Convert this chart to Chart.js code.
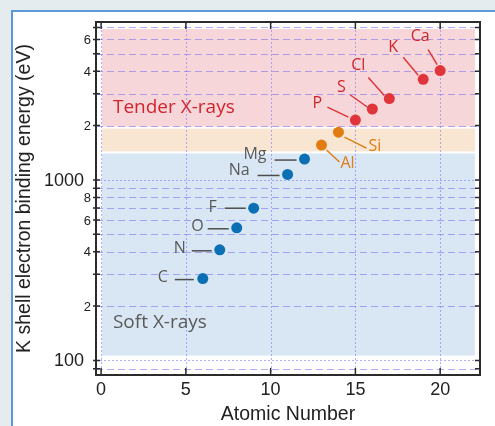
<!DOCTYPE html>
<html>
<head>
<meta charset="utf-8">
<script src="https://cdn.jsdelivr.net/npm/chart.js"></script>
<style>
  html, body { margin: 0; padding: 0; background: #e4ecef; overflow: hidden; }
  #panel { position: absolute; left: 11px; top: 10px; right: 0; bottom: 0; background: #fff;
           border-left: 2px solid #5b9bd5; border-top: 2px solid #5b9bd5; }
  #wrap { position: absolute; left: 0; top: 0; width: 495px; height: 426px; }
</style>
</head>
<body>
<div id="panel"></div>
<div id="wrap"><canvas id="myChart"></canvas></div>
<script>
// K-shell binding energies
const elements = ['C', 'N', 'O', 'F', 'Na', 'Mg', 'Al', 'Si', 'P', 'S', 'Cl', 'K', 'Ca'];
const atomicNumbers = [6, 7, 8, 9, 11, 12, 13, 14, 15, 16, 17, 19, 20];
const bindingEnergies = [284, 410, 543, 697, 1072, 1305, 1560, 1839, 2146, 2472, 2822, 3608, 4038];
const groups = ['soft', 'soft', 'soft', 'soft', 'soft', 'soft', 'mid', 'mid', 'tender', 'tender', 'tender', 'tender', 'tender'];

// shaded energy bands (eV)
const bandNames = ['soft', 'mid', 'tender'];
const bandLow = [105, 1420, 1950];
const bandHigh = [1420, 1950, 6950];
const bandXFrom = 0.05;
const bandXTo = 22.05;

// axes
const xTicks = [0, 5, 10, 15, 20];
const yTickValues = [100, 200, 400, 600, 800, 1000, 2000, 4000, 6000];
const yTickLabels = ['100', '2', '4', '6', '8', '1000', '2', '4', '6'];
const yMajorLines = [100, 1000];
const yMinorLines = [90, 200, 300, 400, 500, 600, 700, 800, 900, 2000, 3000, 4000, 5000, 6000, 7000];

const colors = {
  soft: { point: '#0a6fb3', text: '#595959', band: '#d9e7f4' },
  mid: { point: '#e07c12', text: '#e07c12', band: '#f9e6d2' },
  tender: { point: '#e0353a', text: '#d2242c', band: '#f6d6d8' }
};

// label placement relative to each point (pixels)
const labelStyle = {
  C:  { dx: -35, dy: -1, align: 'right', line: [-28, 1, -9, 1] },
  N:  { dx: -34, dy: -1, align: 'right', line: [-28, 1, -8, 1] },
  O:  { dx: -33, dy: -1, align: 'right', line: [-29, 1, -8, 1] },
  F:  { dx: -37, dy: -1, align: 'right', line: [-29, 0, -8, 0] },
  Na: { dx: -38, dy: -4, align: 'right', line: [-30, 1, -8, 1] },
  Mg: { dx: -38, dy: -5, align: 'right', line: [-30, 1, -8, 1] },
  Al: { dx: 19, dy: 18, align: 'left', line: [5, 5, 18, 17] },
  Si: { dx: 30, dy: 14, align: 'left', line: [6, 5, 28, 16] },
  P:  { dx: -38, dy: -17, align: 'center', line: [-28, -13, -7, -3] },
  S:  { dx: -31, dy: -22, align: 'center', line: [-22, -14, -5, -2] },
  Cl: { dx: -31, dy: -33, align: 'center', line: [-21, -21, -5, -3] },
  K:  { dx: -30, dy: -32, align: 'center', line: [-20, -22, -5, -4] },
  Ca: { dx: -20, dy: -34, align: 'center', line: [-12, -21, -3, -6] }
};

function groupData(name) {
  const pts = [];
  for (let i = 0; i < elements.length; i++) {
    if (groups[i] === name) pts.push({ x: atomicNumbers[i], y: bindingEnergies[i] });
  }
  return pts;
}

const decorPlugin = {
  id: 'decor',
  beforeDraw(chart) {
    const { ctx, scales: { x, y } } = chart;
    ctx.save();
    for (let i = 0; i < bandNames.length; i++) {
      const x0 = x.getPixelForValue(bandXFrom);
      const x1 = x.getPixelForValue(bandXTo);
      const y0 = y.getPixelForValue(bandHigh[i]);
      const y1 = y.getPixelForValue(bandLow[i]);
      ctx.fillStyle = colors[bandNames[i]].band;
      ctx.fillRect(x0, y0 + 1, x1 - x0, y1 - y0 - 2);
    }
    ctx.restore();
  },
  beforeDatasetsDraw(chart) {
    const { ctx, chartArea: a, scales: { x, y } } = chart;
    ctx.save();
    ctx.lineWidth = 1;
    // vertical dotted grid
    ctx.strokeStyle = 'rgba(120,120,255,0.6)';
    ctx.setLineDash([2, 2]);
    xTicks.forEach(v => {
      const px = Math.round(x.getPixelForValue(v)) + 0.5;
      ctx.beginPath(); ctx.moveTo(px, a.top); ctx.lineTo(px, a.bottom); ctx.stroke();
    });
    yMajorLines.forEach(v => {
      const py = Math.round(y.getPixelForValue(v)) + 0.5;
      ctx.beginPath(); ctx.moveTo(a.left, py); ctx.lineTo(a.right, py); ctx.stroke();
    });
    // dashed minor grid
    ctx.strokeStyle = 'rgba(115,105,240,0.55)';
    ctx.setLineDash([7, 4]);
    yMinorLines.forEach(v => {
      const py = Math.round(y.getPixelForValue(v)) + 0.5;
      ctx.beginPath(); ctx.moveTo(a.left, py); ctx.lineTo(a.right, py); ctx.stroke();
    });
    ctx.setLineDash([]);

    // frame
    ctx.strokeStyle = '#2b2b2b';
    ctx.lineWidth = 2;
    ctx.strokeRect(a.left, a.top, a.right - a.left, a.bottom - a.top);

    // tick marks
    ctx.lineWidth = 1.5;
    xTicks.forEach(v => {
      const px = x.getPixelForValue(v);
      ctx.beginPath();
      ctx.moveTo(px, a.bottom); ctx.lineTo(px, a.bottom - 7);
      ctx.moveTo(px, a.top); ctx.lineTo(px, a.top + 7);
      ctx.stroke();
    });
    yMajorLines.concat(yMinorLines).forEach(v => {
      const py = y.getPixelForValue(v);
      ctx.beginPath();
      ctx.moveTo(a.left - 3, py); ctx.lineTo(a.left + 4, py);
      ctx.moveTo(a.right, py); ctx.lineTo(a.right - 5, py);
      ctx.stroke();
    });

    // y tick labels
    ctx.fillStyle = '#222';
    ctx.textAlign = 'right';
    ctx.textBaseline = 'middle';
    yTickValues.forEach((v, i) => {
      const major = yMajorLines.includes(v);
      ctx.font = major ? '18px "Liberation Sans"' : '13px "Liberation Sans"';
      ctx.fillText(yTickLabels[i], a.left - (major ? 12 : 5), y.getPixelForValue(v) + 1);
    });

    // band names
    ctx.textAlign = 'left';
    ctx.font = '19px "Open Sans"';
    ctx.fillStyle = colors.tender.text;
    ctx.fillText('Tender X-rays', x.getPixelForValue(bandXFrom) + 11, y.getPixelForValue(bandLow[2]) - 20);
    ctx.fillStyle = colors.soft.text;
    ctx.fillText('Soft X-rays', x.getPixelForValue(bandXFrom) + 11, y.getPixelForValue(bandLow[0]) - 34);
    ctx.restore();
  },
  afterDatasetsDraw(chart) {
    const { ctx, scales: { x, y } } = chart;
    ctx.save();
    ctx.textBaseline = 'middle';
    ctx.font = '16px "Open Sans"';
    elements.forEach((el, i) => {
      const s = labelStyle[el];
      const c = colors[groups[i]];
      const px = x.getPixelForValue(atomicNumbers[i]);
      const py = y.getPixelForValue(bindingEnergies[i]);
      ctx.strokeStyle = groups[i] === 'soft' ? '#4d4d4d' : c.point;
      ctx.lineWidth = 1.5;
      ctx.beginPath();
      ctx.moveTo(px + s.line[0], py + s.line[1]);
      ctx.lineTo(px + s.line[2], py + s.line[3]);
      ctx.stroke();
      ctx.fillStyle = c.text;
      ctx.textAlign = s.align;
      ctx.fillText(el, px + s.dx, py + s.dy);
    });
    ctx.restore();
  }
};

new Chart('myChart', {
  type: 'scatter',
  data: {
    datasets: bandNames.map(name => ({
      data: groupData(name),
      backgroundColor: colors[name].point,
      borderWidth: 0,
      pointRadius: 5.5,
      pointHoverRadius: 5.5
    }))
  },
  options: {
    responsive: true,
    maintainAspectRatio: false,
    animation: false,
    layout: { padding: { top: 22, right: 15, left: 0, bottom: 0 } },
    plugins: { legend: { display: false }, tooltip: { enabled: false } },
    scales: {
      x: {
        type: 'linear',
        min: -0.3,
        max: 22.35,
        afterBuildTicks: s => { s.ticks = xTicks.map(v => ({ value: v })); },
        afterFit: s => { s.height = 51; },
        grid: { display: false, drawTicks: false },
        border: { display: false },
        ticks: { color: '#222', font: { family: 'Liberation Sans', size: 18 }, padding: 4 },
        title: { display: true, text: 'Atomic Number', color: '#222',
                 font: { family: 'Liberation Sans', size: 19.5 }, padding: { top: 0, bottom: 0 } }
      },
      y: {
        type: 'logarithmic',
        min: 83,
        max: 7500,
        afterBuildTicks: s => { s.ticks = yTickValues.map(v => ({ value: v })); },
        afterFit: s => { s.width = 96; },
        grid: { display: false, drawTicks: false },
        border: { display: false },
        ticks: { display: false },
        title: { display: true, text: 'K shell electron binding energy (eV)', color: '#222',
                 font: { family: 'Liberation Sans', size: 19.5 }, padding: { top: 13, bottom: 0 } }
      }
    }
  },
  plugins: [decorPlugin]
});
</script>
</body>
</html>
